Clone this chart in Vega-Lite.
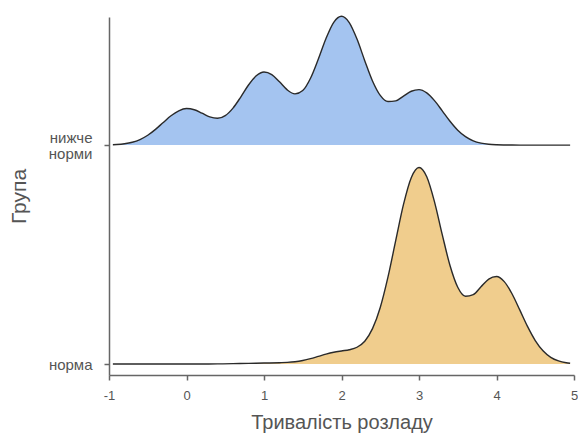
{
  "$schema": "https://vega.github.io/schema/vega-lite/v6.json",
  "width": 465,
  "height": 358,
  "autosize": {"type": "none"},
  "padding": {"left": 109, "top": 17, "right": 4, "bottom": 60},
  "background": "white",
  "config": {"view": {"stroke": null}, "font": "Liberation Sans"},
  "data": {"values": [
    {"g": "нижче норми", "x": -0.95, "d": 0.0015},
    {"g": "нижче норми", "x": -0.9, "d": 0.0024},
    {"g": "нижче норми", "x": -0.8, "d": 0.0059},
    {"g": "нижче норми", "x": -0.7, "d": 0.0129},
    {"g": "нижче норми", "x": -0.6, "d": 0.0254},
    {"g": "нижче норми", "x": -0.5, "d": 0.0449},
    {"g": "нижче норми", "x": -0.4, "d": 0.0718},
    {"g": "нижче норми", "x": -0.3, "d": 0.1033},
    {"g": "нижче норми", "x": -0.2, "d": 0.134},
    {"g": "нижче норми", "x": -0.1, "d": 0.1566},
    {"g": "нижче норми", "x": 0.0, "d": 0.1668},
    {"g": "нижче норми", "x": 0.1, "d": 0.1615},
    {"g": "нижче норми", "x": 0.2, "d": 0.1458},
    {"g": "нижче норми", "x": 0.3, "d": 0.129},
    {"g": "нижче норми", "x": 0.4, "d": 0.1226},
    {"g": "нижче норми", "x": 0.5, "d": 0.1347},
    {"g": "нижче норми", "x": 0.6, "d": 0.169},
    {"g": "нижче норми", "x": 0.7, "d": 0.2195},
    {"g": "нижче норми", "x": 0.8, "d": 0.2743},
    {"g": "нижче норми", "x": 0.9, "d": 0.3166},
    {"g": "нижче норми", "x": 1.0, "d": 0.3341},
    {"g": "нижче норми", "x": 1.1, "d": 0.3222},
    {"g": "нижче норми", "x": 1.2, "d": 0.2889},
    {"g": "нижче норми", "x": 1.3, "d": 0.2522},
    {"g": "нижче норми", "x": 1.4, "d": 0.2337},
    {"g": "нижче норми", "x": 1.5, "d": 0.2489},
    {"g": "нижче норми", "x": 1.6, "d": 0.3053},
    {"g": "нижче норми", "x": 1.7, "d": 0.3919},
    {"g": "нижче норми", "x": 1.8, "d": 0.4868},
    {"g": "нижче норми", "x": 1.9, "d": 0.5606},
    {"g": "нижче норми", "x": 2.0, "d": 0.5882},
    {"g": "нижче норми", "x": 2.1, "d": 0.5595},
    {"g": "нижче норми", "x": 2.2, "d": 0.4842},
    {"g": "нижче норми", "x": 2.3, "d": 0.3857},
    {"g": "нижче норми", "x": 2.4, "d": 0.293},
    {"g": "нижче норми", "x": 2.5, "d": 0.2271},
    {"g": "нижче норми", "x": 2.6, "d": 0.1989},
    {"g": "нижче норми", "x": 2.7, "d": 0.2021},
    {"g": "нижче норми", "x": 2.8, "d": 0.2239},
    {"g": "нижче норми", "x": 2.9, "d": 0.246},
    {"g": "нижче норми", "x": 3.0, "d": 0.2532},
    {"g": "нижче норми", "x": 3.1, "d": 0.2383},
    {"g": "нижче норми", "x": 3.2, "d": 0.203},
    {"g": "нижче норми", "x": 3.3, "d": 0.1565},
    {"g": "нижче норми", "x": 3.4, "d": 0.1088},
    {"g": "нижче норми", "x": 3.5, "d": 0.068},
    {"g": "нижче норми", "x": 3.6, "d": 0.0385},
    {"g": "нижче норми", "x": 3.7, "d": 0.0195},
    {"g": "нижче норми", "x": 3.8, "d": 0.009},
    {"g": "нижче норми", "x": 3.9, "d": 0.0037},
    {"g": "нижче норми", "x": 4.0, "d": 0.0014},
    {"g": "нижче норми", "x": 4.1, "d": 0.0005},
    {"g": "нижче норми", "x": 4.2, "d": 0.0002},
    {"g": "нижче норми", "x": 4.4, "d": 0},
    {"g": "нижче норми", "x": 4.7, "d": 0},
    {"g": "нижче норми", "x": 4.95, "d": 0},
    {"g": "норма", "x": -0.95, "d": 0},
    {"g": "норма", "x": -0.5, "d": 0},
    {"g": "норма", "x": 0.0, "d": 0.0001},
    {"g": "норма", "x": 0.2, "d": 0.0002},
    {"g": "норма", "x": 0.4, "d": 0.0007},
    {"g": "норма", "x": 0.6, "d": 0.0018},
    {"g": "норма", "x": 0.8, "d": 0.0032},
    {"g": "норма", "x": 1.0, "d": 0.0045},
    {"g": "норма", "x": 1.2, "d": 0.0062},
    {"g": "норма", "x": 1.3, "d": 0.0075},
    {"g": "норма", "x": 1.4, "d": 0.0105},
    {"g": "норма", "x": 1.5, "d": 0.0162},
    {"g": "норма", "x": 1.6, "d": 0.0245},
    {"g": "норма", "x": 1.7, "d": 0.0348},
    {"g": "норма", "x": 1.8, "d": 0.0453},
    {"g": "норма", "x": 1.9, "d": 0.0538},
    {"g": "норма", "x": 2.0, "d": 0.0599},
    {"g": "норма", "x": 2.1, "d": 0.0654},
    {"g": "норма", "x": 2.2, "d": 0.0767},
    {"g": "норма", "x": 2.3, "d": 0.1042},
    {"g": "норма", "x": 2.4, "d": 0.1617},
    {"g": "норма", "x": 2.5, "d": 0.2584},
    {"g": "норма", "x": 2.6, "d": 0.3978},
    {"g": "норма", "x": 2.7, "d": 0.5647},
    {"g": "норма", "x": 2.8, "d": 0.7289},
    {"g": "норма", "x": 2.9, "d": 0.8509},
    {"g": "норма", "x": 3.0, "d": 0.8975},
    {"g": "норма", "x": 3.1, "d": 0.8553},
    {"g": "норма", "x": 3.2, "d": 0.7408},
    {"g": "норма", "x": 3.3, "d": 0.5911},
    {"g": "норма", "x": 3.4, "d": 0.4501},
    {"g": "норма", "x": 3.5, "d": 0.3508},
    {"g": "норма", "x": 3.6, "d": 0.3096},
    {"g": "норма", "x": 3.7, "d": 0.3171},
    {"g": "норма", "x": 3.8, "d": 0.3527},
    {"g": "норма", "x": 3.9, "d": 0.3881},
    {"g": "норма", "x": 4.0, "d": 0.3999},
    {"g": "норма", "x": 4.1, "d": 0.3765},
    {"g": "норма", "x": 4.2, "d": 0.3212},
    {"g": "норма", "x": 4.3, "d": 0.2474},
    {"g": "норма", "x": 4.4, "d": 0.1718},
    {"g": "норма", "x": 4.5, "d": 0.1074},
    {"g": "норма", "x": 4.6, "d": 0.0608},
    {"g": "норма", "x": 4.7, "d": 0.0308},
    {"g": "норма", "x": 4.8, "d": 0.0141},
    {"g": "норма", "x": 4.9, "d": 0.0058},
    {"g": "норма", "x": 4.95, "d": 0.0035}
  ]},
  "transform": [
    {"calculate": "datum.g == 'норма' ? 0 : 1", "as": "base"},
    {"calculate": "datum.base + datum.d", "as": "top"}
  ],
  "encoding": {
    "x": {
      "field": "x",
      "type": "quantitative",
      "scale": {"domain": [-1, 5], "nice": false, "zero": false},
      "axis": {
        "values": [-1, 0, 1, 2, 3, 4, 5],
        "labelExpr": "replace(datum.label, '−', '-')",
        "title": "Тривалість розладу",
        "grid": false,
        "domainColor": "#666666",
        "domainWidth": 1.5,
        "tickColor": "#666666",
        "tickWidth": 1.5,
        "tickSize": 5,
        "labelFontSize": 13,
        "labelColor": "#555555",
        "labelPadding": 9,
        "labelFlush": false,
        "titleFontSize": 20,
        "titleColor": "#555555",
        "titleFontWeight": "normal",
        "titlePadding": 10
      }
    }
  },
  "layer": [
    {
      "mark": {"type": "area", "interpolate": "monotone"},
      "encoding": {
        "y": {
          "field": "top",
          "type": "quantitative",
          "scale": {"domain": [-0.05, 1.585], "nice": false, "zero": false},
          "axis": {
            "values": [0, 1],
            "labelExpr": "datum.value == 0 ? 'норма' : ['нижче', 'норми']",
            "labelOffset": {"condition": {"test": "datum.value == 1", "value": -8}, "value": 0},
            "title": "Група",
            "grid": false,
            "domainColor": "#666666",
            "domainWidth": 1.5,
            "tickColor": "#666666",
            "tickWidth": 1.5,
            "tickSize": 5,
            "labelFontSize": 15,
            "labelLineHeight": 16,
            "labelColor": "#555555",
            "labelPadding": 12,
            "titleFontSize": 21,
            "titleColor": "#555555",
            "titleFontWeight": "normal",
            "titlePadding": 19
          }
        },
        "y2": {"field": "base"},
        "color": {
          "field": "g",
          "type": "nominal",
          "scale": {"domain": ["нижче норми", "норма"], "range": ["#a4c4f0", "#f0cd8d"]},
          "legend": null
        }
      }
    },
    {
      "mark": {"type": "line", "interpolate": "monotone", "stroke": "#2a2a2a", "strokeWidth": 1.4},
      "encoding": {
        "y": {"field": "top", "type": "quantitative"},
        "detail": {"field": "g"}
      }
    }
  ]
}
